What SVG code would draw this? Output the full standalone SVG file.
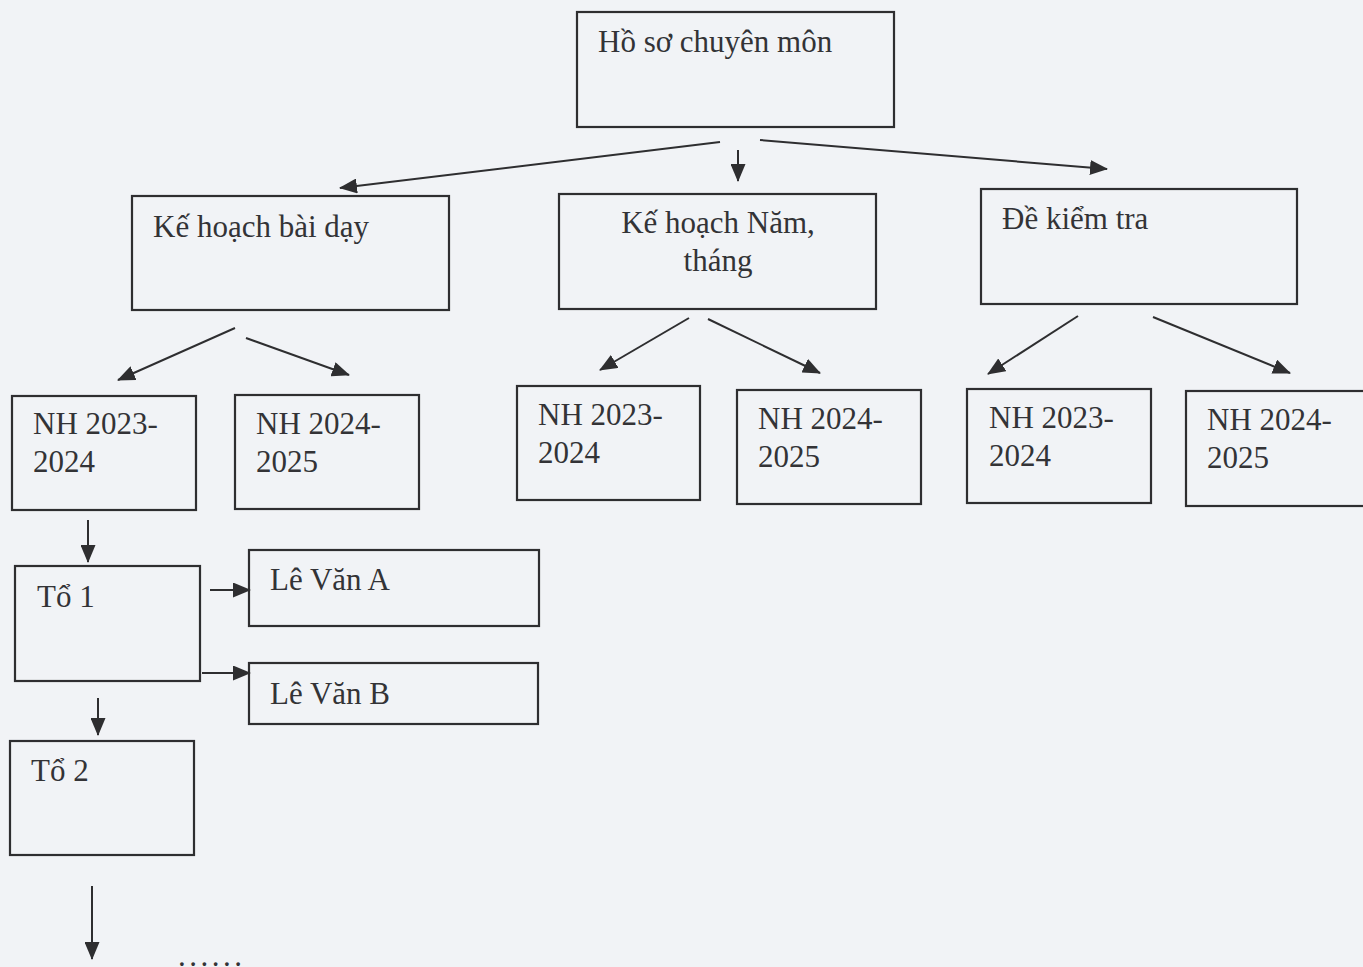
<svg xmlns="http://www.w3.org/2000/svg" width="1363" height="967" viewBox="0 0 1363 967">
<defs>
<style>
.box{fill:none;stroke:#2e2e30;stroke-width:2.2}
.t{font-family:"Liberation Serif","Times New Roman",serif;font-size:31px;fill:#333336}
.c{stroke:#2e2e30;stroke-width:2;fill:none;marker-end:url(#ah)}
</style>
<marker id="ah" markerUnits="userSpaceOnUse" markerWidth="18" markerHeight="15" viewBox="0 0 18 15" refX="17" refY="7.5" orient="auto">
<path d="M0,0 L18,7.5 L0,15 Z" fill="#2e2e30"/>
</marker>
</defs>
<rect width="1363" height="967" fill="#f1f3f6"/>
<g id="n-root"><rect class="box" x="577" y="12" width="317" height="115"/><text class="t" x="598" y="52">Hồ sơ chuyên môn</text></g>
<g id="n-khbd"><rect class="box" x="132" y="196" width="317" height="114"/><text class="t" x="153" y="237">Kế hoạch bài dạy</text></g>
<g id="n-khn"><rect class="box" x="559" y="194" width="317" height="115"/><text class="t" x="718" y="233" text-anchor="middle">Kế hoạch Năm,</text><text class="t" x="718" y="271" text-anchor="middle">tháng</text></g>
<g id="n-dkt"><rect class="box" x="981" y="189" width="316" height="115"/><text class="t" x="1002" y="229">Đề kiểm tra</text></g>
<g id="n-l1"><rect class="box" x="12" y="396" width="184" height="114"/><text class="t" x="33" y="434">NH 2023-</text><text class="t" x="33" y="472">2024</text></g>
<g id="n-l2"><rect class="box" x="235" y="395" width="184" height="114"/><text class="t" x="256" y="434">NH 2024-</text><text class="t" x="256" y="472">2025</text></g>
<g id="n-m1"><rect class="box" x="517" y="386" width="183" height="114"/><text class="t" x="538" y="425">NH 2023-</text><text class="t" x="538" y="463">2024</text></g>
<g id="n-m2"><rect class="box" x="737" y="390" width="184" height="114"/><text class="t" x="758" y="429">NH 2024-</text><text class="t" x="758" y="467">2025</text></g>
<g id="n-r1"><rect class="box" x="967" y="389" width="184" height="114"/><text class="t" x="989" y="428">NH 2023-</text><text class="t" x="989" y="466">2024</text></g>
<g id="n-r2"><rect class="box" x="1186" y="391" width="190" height="115"/><text class="t" x="1207" y="430">NH 2024-</text><text class="t" x="1207" y="468">2025</text></g>
<g id="n-to1"><rect class="box" x="15" y="566" width="185" height="115"/><text class="t" x="37" y="607">Tổ 1</text></g>
<g id="n-lva"><rect class="box" x="249" y="550" width="290" height="76"/><text class="t" x="270" y="590">Lê Văn A</text></g>
<g id="n-lvb"><rect class="box" x="249" y="663" width="289" height="61"/><text class="t" x="270" y="704">Lê Văn B</text></g>
<g id="n-to2"><rect class="box" x="10" y="741" width="184" height="114"/><text class="t" x="31" y="781">Tổ 2</text></g>
<g id="n-more"><text class="t" x="178" y="966" letter-spacing="3.5">......</text></g>
<g id="connectors">
<line class="c" x1="720" y1="142" x2="340" y2="188"/>
<line class="c" x1="738" y1="150" x2="738" y2="181"/>
<line class="c" x1="760" y1="140" x2="1107" y2="169"/>
<line class="c" x1="235" y1="328" x2="118" y2="380"/>
<line class="c" x1="246" y1="338" x2="349" y2="375"/>
<line class="c" x1="689" y1="318" x2="600" y2="370"/>
<line class="c" x1="708" y1="319" x2="820" y2="373"/>
<line class="c" x1="1078" y1="316" x2="988" y2="374"/>
<line class="c" x1="1153" y1="317" x2="1290" y2="373"/>
<line class="c" x1="88" y1="520" x2="88" y2="562"/>
<line class="c" x1="210" y1="590" x2="250" y2="590"/>
<line class="c" x1="202" y1="673" x2="250" y2="673"/>
<line class="c" x1="98" y1="698" x2="98" y2="735"/>
<line class="c" x1="92" y1="886" x2="92" y2="959"/>
</g>
</svg>
